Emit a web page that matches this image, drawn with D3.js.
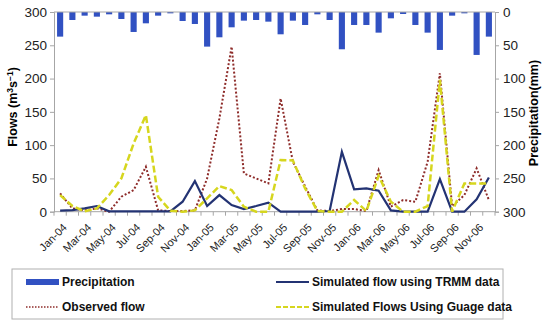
<!DOCTYPE html>
<html>
<head>
<meta charset="utf-8">
<script src="https://cdn.jsdelivr.net/npm/d3@7"></script>
<style>
  body { margin: 0; background: #fff; }
  svg { font-family: "Liberation Sans", Arial, sans-serif; }
</style>
</head>
<body>
<div id="chart"></div>
<script>
const months = [
  "Jan-04","Feb-04","Mar-04","Apr-04","May-04","Jun-04","Jul-04","Aug-04","Sep-04","Oct-04","Nov-04","Dec-04",
  "Jan-05","Feb-05","Mar-05","Apr-05","May-05","Jun-05","Jul-05","Aug-05","Sep-05","Oct-05","Nov-05","Dec-05",
  "Jan-06","Feb-06","Mar-06","Apr-06","May-06","Jun-06","Jul-06","Aug-06","Sep-06","Oct-06","Nov-06","Dec-06"
];

// monthly precipitation (mm), right axis, hanging from top
const precipitation = [
  37, 12, 5.5, 7, 3.5, 10.5, 30, 17, 5.5, 2, 13.5, 18,
  52, 38, 23, 13, 12, 14.5, 33.5, 13, 19.5, 3.5, 12, 56,
  19.5, 19.5, 31, 9.5, 3, 19.5, 31, 57, 5.5, 2, 64.5, 37
];

// flows (m3/s), left axis
const observed = [
  27.5, 5, 2, 5, 0, 22.5, 32.5, 67.5, 2, 1, 1, 2,
  50, 140, 248, 57.5, 50, 42.5, 170, 75, 38, 2, 1, 4,
  4, 1, 62.5, 7.5, 17.5, 15, 75, 208, 8, 25, 65, 17.5
];
const simTRMM = [
  1.5, 2.5, 5, 8.5, 0.5, 0.5, 0.5, 0.5, 0.5, 0.5, 15, 46,
  8.5, 25, 10, 4, 8.5, 13.5, 0, 0, 0, 0, 1, 90,
  33.5, 35, 31.5, 2, 0, 0, 0, 49, 0, 0, 18.5, 51.5
];
const simGauge = [
  25, 8.5, 0.5, 5, 25, 50, 102.5, 145, 22.5, 1.5, 0, 2,
  20, 38.5, 32.5, 7.5, 0, 0, 77.5, 77, 35, 1, 0, 0,
  17.5, 1, 54, 15, 0, 0, 8.5, 198, 0, 42.5, 42.5, 42.5
];

const flowTicks = [0, 50, 100, 150, 200, 250, 300];
const precipTicks = [0, 50, 100, 150, 200, 250, 300];
const labelMonths = months.filter((m, i) => i % 2 === 0);

const width = 550, height = 326;
const plot = { left: 54, right: 495, top: 12, bottom: 211.7 };
const axisColor = "#a6a6a6";

const svg = d3.select("#chart").append("svg")
  .attr("width", width).attr("height", height);

const x = d3.scaleBand().domain(months).range([plot.left, plot.right]);
const yL = d3.scaleLinear().domain([0, 300]).range([plot.bottom, plot.top]);
const yR = d3.scaleLinear().domain([0, 300]).range([plot.top, plot.bottom]);

// ---------- precipitation bars ----------
const barW = x.bandwidth() * 0.5;
svg.append("g").selectAll("rect").data(precipitation).enter().append("rect")
  .attr("x", (d, i) => x(months[i]) + (x.bandwidth() - barW) / 2)
  .attr("y", yR(0))
  .attr("width", barW)
  .attr("height", d => yR(d) - yR(0))
  .attr("fill", "#3151c2");

// top line (secondary category axis)
svg.append("line")
  .attr("x1", plot.left).attr("x2", plot.right)
  .attr("y1", yR(0)).attr("y2", yR(0))
  .attr("stroke", axisColor).attr("stroke-width", 1);

// ---------- axes ----------
const left = svg.append("g").attr("transform", `translate(${plot.left},0)`)
  .call(d3.axisLeft(yL).tickValues(flowTicks).tickSize(4).tickPadding(3));
const right = svg.append("g").attr("transform", `translate(${plot.right},0)`)
  .call(d3.axisRight(yR).tickValues(precipTicks).tickSize(4).tickPadding(4));

[left, right].forEach(g => {
  g.select(".domain").attr("stroke", axisColor);
  g.selectAll(".tick line").attr("stroke", axisColor);
  g.selectAll(".tick text").attr("fill", "#222")
    .style("font-family", "'Liberation Sans', Arial, sans-serif")
    .style("font-size", "13.5px");
});

// bottom axis: ticks between categories, labels every other month
const bottom = svg.append("g").attr("transform", `translate(0,${plot.bottom})`);
bottom.append("line")
  .attr("x1", plot.left).attr("x2", plot.right)
  .attr("stroke", axisColor);
bottom.selectAll(".tk").data(months.concat(["end"])).enter().append("line")
  .attr("x1", (d, i) => i < months.length ? x(d) : plot.right)
  .attr("x2", (d, i) => i < months.length ? x(d) : plot.right)
  .attr("y1", 0).attr("y2", 4)
  .attr("stroke", axisColor);
bottom.selectAll(".lbl").data(labelMonths).enter().append("text")
  .attr("transform", d => `translate(${x(d) + x.bandwidth() / 2 + 2},${11}) rotate(-45)`)
  .attr("text-anchor", "end")
  .attr("dy", "0.7em")
  .style("font-size", "11px")
  .attr("fill", "#222")
  .text(d => d);

// ---------- flow lines ----------
const line = d3.line()
  .x((d, i) => x(months[i]) + x.bandwidth() / 2)
  .y(d => yL(d));

svg.append("path").datum(observed)
  .attr("fill", "none").attr("stroke", "#8e2c2a").attr("stroke-width", 2)
  .attr("stroke-dasharray", "2,2").attr("d", line);

svg.append("path").datum(simTRMM)
  .attr("fill", "none").attr("stroke", "#233373").attr("stroke-width", 2.2)
  .attr("d", line);

svg.append("path").datum(simGauge)
  .attr("fill", "none").attr("stroke", "#d6d61e").attr("stroke-width", 2.5)
  .attr("stroke-dasharray", "7,3").attr("d", line);

// ---------- axis titles ----------
const flowTitle = svg.append("text")
  .attr("transform", "translate(17,107) rotate(-90)")
  .attr("text-anchor", "middle")
  .style("font-size", "12.5px").style("font-weight", "bold");
flowTitle.append("tspan").text("Flows (m");
flowTitle.append("tspan").attr("dy", "-4").style("font-size", "8.5px").text("3");
flowTitle.append("tspan").attr("dy", "4").text("s");
flowTitle.append("tspan").attr("dy", "-4").style("font-size", "8.5px").text("−1");
flowTitle.append("tspan").attr("dy", "4").text(")");

svg.append("text")
  .attr("transform", "translate(538,113) rotate(-90)")
  .attr("text-anchor", "middle")
  .style("font-size", "12.5px").style("font-weight", "bold")
  .text("Precipitation(mm)");

// ---------- legend ----------
const legend = svg.append("g");
legend.append("rect")
  .attr("x", 12).attr("y", 269).attr("width", 491).attr("height", 50)
  .attr("fill", "#fff").attr("stroke", "#b0b0b0");

const items = [
  { label: "Precipitation", type: "bar", x: 26, y: 282 },
  { label: "Simulated flow using TRMM data", type: "solid", x: 276, y: 282 },
  { label: "Observed flow", type: "dot", x: 26, y: 307 },
  { label: "Simulated Flows Using Guage data", type: "dash", x: 276, y: 307 }
];
items.forEach(it => {
  if (it.type === "bar") {
    legend.append("rect").attr("x", it.x).attr("y", it.y - 3).attr("width", 33).attr("height", 6)
      .attr("fill", "#3151c2");
  } else {
    const st = {
      solid: { c: "#233373", w: 2.2, d: null },
      dot: { c: "#8e2c2a", w: 1.5, d: "1.5,1.5" },
      dash: { c: "#d6d61e", w: 2, d: "5,2" }
    }[it.type];
    legend.append("line").attr("x1", it.x).attr("x2", it.x + 33)
      .attr("y1", it.y).attr("y2", it.y)
      .attr("stroke", st.c).attr("stroke-width", st.w).attr("stroke-dasharray", st.d);
  }
  legend.append("text").attr("x", it.x + 36).attr("y", it.y).attr("dy", "0.35em")
    .style("font-size", "12px").style("font-weight", "bold").attr("fill", "#111")
    .text(it.label);
});
</script>
</body>
</html>
